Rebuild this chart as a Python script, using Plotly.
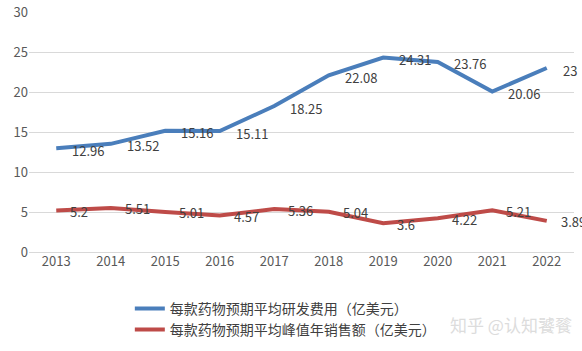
import plotly.graph_objects as go

years = ["2013", "2014", "2015", "2016", "2017", "2018", "2019", "2020", "2021", "2022"]
rd_cost = [12.96, 13.52, 15.16, 15.11, 18.25, 22.08, 24.31, 23.76, 20.06, 23.0]
rd_labels = ["12.96", "13.52", "15.16", "15.11", "18.25", "22.08", "24.31", "23.76", "20.06", "23"]
peak_sales = [5.2, 5.51, 5.01, 4.57, 5.36, 5.04, 3.6, 4.22, 5.21, 3.89]
peak_labels = ["5.2", "5.51", "5.01", "4.57", "5.36", "5.04", "3.6", "4.22", "5.21", "3.89"]
name_rd = "每款药物预期平均研发费用（亿美元）"
name_peak = "每款药物预期平均峰值年销售额（亿美元）"
y_ticks = [0, 5, 10, 15, 20, 25, 30]

FONT = "Noto Sans CJK SC, Noto Sans, sans-serif"
BLUE = "#4A7EBB"
RED = "#BE4B48"

fig = go.Figure()
fig.add_trace(go.Scatter(x=years, y=rd_cost, mode="lines", name=name_rd,
                         line=dict(color=BLUE, width=4)))
fig.add_trace(go.Scatter(x=years, y=peak_sales, mode="lines", name=name_peak,
                         line=dict(color=RED, width=4)))

annotations = []
for i, (v, t) in enumerate(zip(rd_cost, rd_labels)):
    annotations.append(dict(x=i, y=v, text=t, showarrow=False, xanchor="left",
                            yanchor="middle", xshift=14, yshift=-2,
                            font=dict(family=FONT, size=13, color="#404040")))
for i, (v, t) in enumerate(zip(peak_sales, peak_labels)):
    annotations.append(dict(x=i, y=v, text=t, showarrow=False, xanchor="left",
                            yanchor="middle", xshift=12, yshift=-1,
                            font=dict(family=FONT, size=13, color="#404040")))
annotations.append(dict(xref="paper", yref="paper", x=1.0, y=-0.30, text="知乎 @认知饕餮",
                        showarrow=False, xanchor="right", yanchor="middle",
                        font=dict(family=FONT, size=17, color="#dcdcdc")))

fig.update_layout(
    width=582, height=351,
    margin=dict(l=29, r=8, t=12, b=99, autoexpand=False),
    paper_bgcolor="white", plot_bgcolor="white",
    font=dict(family=FONT, size=13, color="#595959"),
    showlegend=True,
    legend=dict(x=0.185, y=-0.17, xanchor="left", yanchor="top",
                font=dict(family=FONT, size=14, color="#404040"),
                tracegroupgap=0, itemwidth=30, bgcolor="rgba(0,0,0,0)"),
    annotations=annotations,
    xaxis=dict(type="category", showgrid=False, showline=False, zeroline=False,
               ticks="", tickfont=dict(size=13, color="#595959"),
               range=[-0.5, 9.5], automargin=False),
    yaxis=dict(range=[0, 30], tickvals=y_ticks, showgrid=True, gridcolor="#D9D9D9",
               gridwidth=1, zeroline=True, zerolinecolor="#D9D9D9", zerolinewidth=1,
               showline=False, ticks="", tickfont=dict(size=13, color="#595959"),
               automargin=False),
)

fig.write_html("out.html")
